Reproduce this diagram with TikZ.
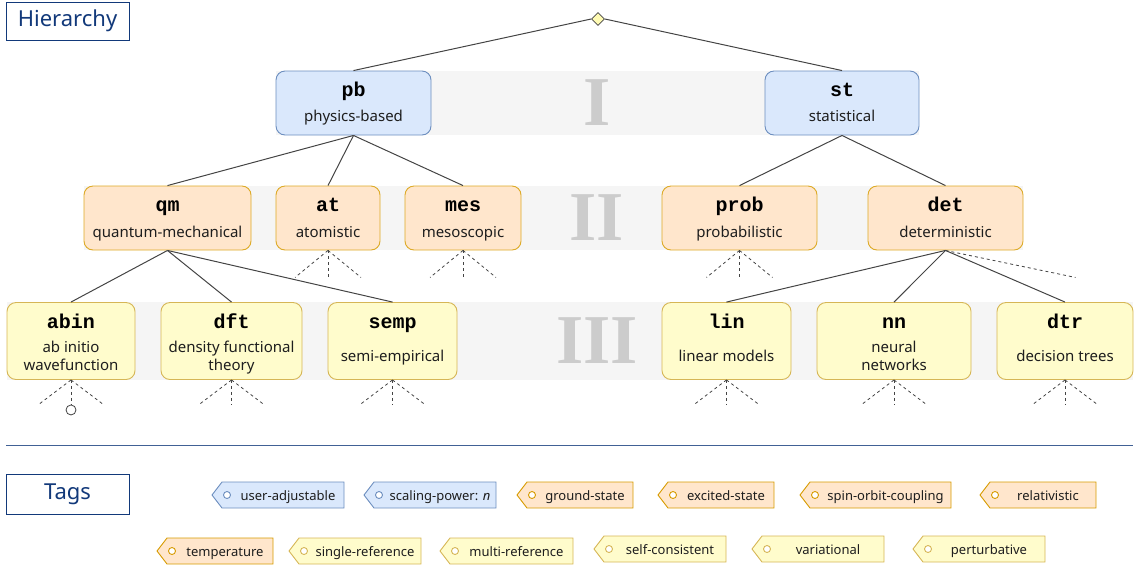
\documentclass[tikz,border=0pt]{standalone}
\usepackage{fontspec}
\setmainfont{Noto Sans}
\newfontfamily\codefont{Liberation Mono}
\newfontfamily\numfont{Liberation Serif}
\usetikzlibrary{calc}
\usetikzlibrary{shapes.geometric}
\usepackage{xcolor}

\definecolor{blueF}{HTML}{DAE8FC}
\definecolor{blueD}{HTML}{6C8EBF}
\definecolor{orangeF}{HTML}{FFE6CC}
\definecolor{orangeD}{HTML}{D79B00}
\definecolor{yellowF}{HTML}{FFFCCC}
\definecolor{yellowD}{HTML}{D6B656}
\definecolor{bandgray}{HTML}{F5F5F5}
\definecolor{navy}{HTML}{12397A}
\definecolor{linegray}{HTML}{444444}
\definecolor{txt}{HTML}{1E1E1E}

\begin{document}
\begin{tikzpicture}[x=1pt,y=-1pt,
    lvl/.style={draw, rounded corners=9pt, line width=0.9pt, inner sep=0pt},
    lvlI/.style={lvl, fill=blueF, draw=blueD, minimum height=64pt},
    lvlII/.style={lvl, fill=orangeF, draw=orangeD!85, minimum height=64pt},
    lvlIII/.style={lvl, fill=yellowF, draw=yellowD, minimum height=77pt},
    code/.style={anchor=base, inner sep=0pt, font=\codefont\bfseries\fontsize{20}{22}\selectfont},
    lbl/.style={anchor=base, inner sep=0pt, align=center, text=txt, font=\fontsize{15}{18}\selectfont},
    roman/.style={text=black!20, font=\numfont\bfseries\fontsize{70}{70}\selectfont},
    edge/.style={draw=linegray, line width=1pt},
    stub/.style={draw=linegray, line width=0.8pt, dash pattern=on 3pt off 3pt},
    title/.style={draw=navy, line width=1pt, text=navy, font=\fontsize{22}{24}\selectfont},
    tagB/.style={draw=blueD, fill=blueF, line width=0.9pt},
    tagO/.style={draw=orangeD, fill=orangeF, line width=0.9pt},
    tagY/.style={draw=yellowD, fill=yellowF, line width=0.9pt},
    tagtext/.style={anchor=base, inner sep=0pt, text=txt, font=\fontsize{13}{15}\selectfont}]

  \useasboundingbox (0,0) rectangle (1134,566);

  % Bands
  \fill[bandgray] (276,71) rectangle (919,135);
  \fill[bandgray] (84,186) rectangle (1023,250);
  \fill[bandgray] (7,302) rectangle (1133,380);
  \node[roman] (rI) at (597,103) {I};
  \node[roman] (rII) at (597,218) {II};
  \node[roman] (rIII) at (597,341) {III};

  % Titles
  \node[title, minimum width=123pt, minimum height=38pt] (hier) at (67.5,21) {Hierarchy};
  \node[title, minimum width=123pt, minimum height=40pt] (tags) at (67.5,494) {Tags};
  \draw[navy!80, line width=1pt] (6,445) -- (1133,445);

  % Root
  \node[diamond, draw=linegray, fill=yellow!30, line width=0.8pt, inner sep=0pt, minimum size=13pt] (root) at (598,19) {};

  % Level I
  \node[lvlI, minimum width=155pt] (pb) at (353.5,103) {};
  \node[lvlI, minimum width=154pt] (st) at (842,103) {};

  % Level II
  \node[lvlII, minimum width=167pt] (qm) at (167.5,218) {};
  \node[lvlII, minimum width=104pt] (at) at (328,218) {};
  \node[lvlII, minimum width=116pt] (mes) at (463,218) {};
  \node[lvlII, minimum width=155pt] (prob) at (739.5,218) {};
  \node[lvlII, minimum width=155pt] (det) at (945.5,218) {};

  % Level III
  \node[lvlIII, minimum width=128pt] (abin) at (71,341) {};
  \node[lvlIII, minimum width=141pt] (dft) at (231.5,341) {};
  \node[lvlIII, minimum width=129pt] (semp) at (392.5,341) {};
  \node[lvlIII, minimum width=129pt] (lin) at (726.5,341) {};
  \node[lvlIII, minimum width=154pt] (nn) at (894,341) {};
  \node[lvlIII, minimum width=136pt] (dtr) at (1065,341) {};

  % Texts
  \foreach \n/\t/\dy in {pb/physics-based/51, st/statistical/51,
      qm/quantum-mechanical/52, at/atomistic/52, mes/mesoscopic/52,
      prob/probabilistic/52, det/deterministic/52,
      abin/{ab initio\\wavefunction}/68, dft/{density functional\\theory}/68,
      semp/semi-empirical/59, lin/linear models/59,
      nn/{neural\\networks}/68, dtr/decision trees/59}
  {
    \node[code] (\n-c) at ($(\n.north)+(0,26)$) {\n};
    \node[lbl] (\n-l) at ($(\n.north)+(0,\dy)$) {\t};
  }

  % Edges
  \draw[edge] (root.west) -- (pb.north);
  \draw[edge] (root.east) -- (st.north);
  \foreach \a/\b in {pb/qm, pb/at, pb/mes, st/prob, st/det,
      qm/abin, qm/dft, qm/semp, det/lin, det/nn, det/dtr}
    \draw[edge] (\a.south) -- (\b.north);

  % Open ends
  \foreach \n in {at,mes,prob}
  {
    \draw[stub] (\n.south) -- ++(-33,27);
    \draw[stub] (\n.south) -- ++(0,27);
    \draw[stub] (\n.south) -- ++(33,27);
  }
  \draw[stub] (det.south) -- ++(130,27);
  \foreach \n in {abin,dft,semp,lin,nn,dtr}
  {
    \draw[stub] (\n.south) -- ++(-33,25);
    \draw[stub] (\n.south) -- ++(33,25);
  }
  \foreach \n in {dft,semp,lin,nn,dtr}
    \draw[stub] (\n.south) -- ++(0,25);
  \node[circle, draw=linegray, fill=white, line width=0.8pt, inner sep=0pt, minimum size=10pt] (abinend) at ($(abin.south)+(0,30)$) {};
  \draw[stub] (abin.south) -- (abinend);

  % Tags
  \foreach \tx/\ex/\ty/\tc/\tl [count=\i] in {
      212/344/495/tagB/user-adjustable,
      364/496/495/tagB/{scaling-power: \textit{n}},
      517/633/495/tagO/ground-state,
      658/774/495/tagO/excited-state,
      800/951/495/tagO/spin-orbit-coupling,
      980/1096/495/tagO/relativistic,
      157/273/551/tagO/temperature,
      289/421/551/tagY/single-reference,
      440/573/551/tagY/multi-reference,
      594/726/549/tagY/self-consistent,
      752/884/549/tagY/variational,
      913/1045/549/tagY/perturbative}
  {
    \draw[\tc] (\tx,\ty) -- (\tx+10,\ty-13) -- (\ex,\ty-13) -- (\ex,\ty+13) -- (\tx+10,\ty+13) -- cycle;
    \draw[\tc, fill=white] (\tx+15,\ty) circle (3.5);
    \node[tagtext] (tag\i) at ({(\tx+20+\ex)/2},\ty+5) {\tl};
  }
\end{tikzpicture}
\end{document}
